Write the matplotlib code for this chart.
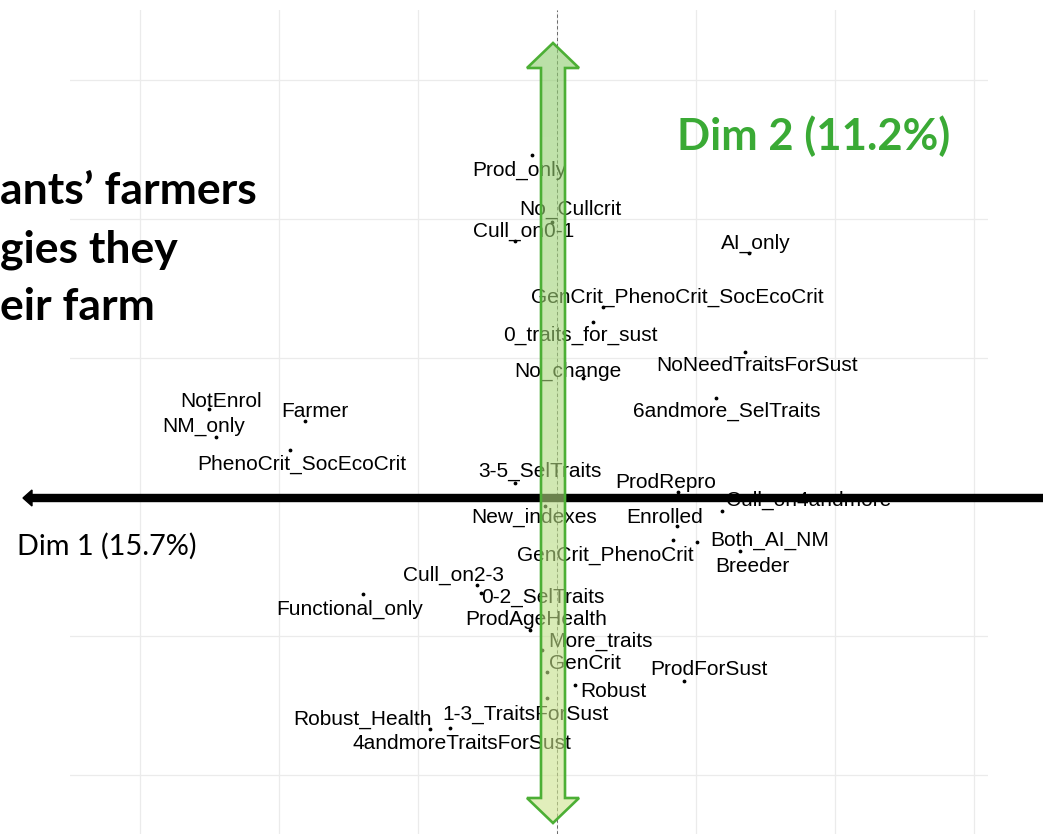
import numpy as np
import matplotlib
matplotlib.use("Agg")
import matplotlib.pyplot as plt
from matplotlib.patches import Polygon

# MCA variable categories: coordinates on Dim 1 / Dim 2
categories = [
    "Prod_only", "No_Cullcrit", "Cull_on0-1", "AI_only",
    "GenCrit_PhenoCrit_SocEcoCrit", "0_traits_for_sust", "No_change",
    "NoNeedTraitsForSust", "6andmore_SelTraits", "NotEnrol", "NM_only",
    "Farmer", "PhenoCrit_SocEcoCrit", "3-5_SelTraits", "ProdRepro",
    "Cull_on4andmore", "New_indexes", "Enrolled", "Both_AI_NM",
    "GenCrit_PhenoCrit", "Breeder", "Cull_on2-3", "0-2_SelTraits",
    "Functional_only", "ProdAgeHealth", "More_traits", "GenCrit",
    "ProdForSust", "Robust", "Robust_Health", "1-3_TraitsForSust",
    "4andmoreTraitsForSust",
]
dim1 = [-0.090, -0.018, -0.151, 0.691, 0.165, 0.129, 0.094, 0.676, 0.572,
        -1.252, -1.227, -0.906, -0.960, -0.151, 0.435, 0.594, -0.043, 0.432,
        0.504, 0.417, 0.658, -0.288, -0.273, -0.698, -0.097, -0.054, -0.036,
        0.457, 0.065, -0.457, -0.036, -0.385]
dim2 = [1.230, 0.989, 0.921, 0.878, 0.683, 0.629, 0.428, 0.522, 0.356,
        0.317, 0.216, 0.273, 0.169, 0.050, 0.018, -0.050, -0.032, -0.104,
        -0.162, -0.155, -0.194, -0.317, -0.345, -0.349, -0.478, -0.550,
        -0.629, -0.662, -0.676, -0.835, -0.723, -0.831]
# repelled label positions
label_x = [-0.137, 0.047, -0.119, 0.716, 0.432, 0.083, 0.040, 0.719, 0.612,
           -1.209, -1.270, -0.871, -0.917, -0.061, 0.392, 0.906, -0.083, 0.388,
           0.766, 0.173, 0.701, -0.374, -0.050, -0.745, -0.076, 0.155, 0.101,
           0.547, 0.201, -0.701, -0.112, -0.342]
label_y = [1.176, 1.036, 0.957, 0.914, 0.719, 0.583, 0.453, 0.475, 0.309,
           0.345, 0.255, 0.309, 0.119, 0.094, 0.054, -0.011, -0.072, -0.072,
           -0.155, -0.209, -0.248, -0.281, -0.360, -0.403, -0.439, -0.518,
           -0.597, -0.622, -0.698, -0.799, -0.781, -0.885]

dim1_label = "Dim 1 (15.7%)"
dim2_label = "Dim 2 (11.2%)"
title_lines = ["ants\u2019 farmers", "gies they", "eir farm"]

W, H = 1043, 834
fig = plt.figure(figsize=(W / 100, H / 100), dpi=100)

ax = fig.add_axes([70 / W, 0, 918 / W, 824 / H])
ticks = np.arange(-1.5, 1.51, 0.5)
ax.set_xticks(ticks)
ax.set_yticks(ticks)
ax.set_xlim(-1.752, 1.550)
ax.set_ylim(-1.212, 1.752)
ax.grid(True, color="#ebebeb", lw=0.9)
ax.tick_params(length=0, labelbottom=False, labelleft=False)
for s in ax.spines.values():
    s.set_visible(False)
ax.axvline(0, color="#555555", lw=0.6, ls=(0, (4, 3)))
ax.axhline(0, color="#555555", lw=0.6, ls=(0, (4, 3)))

ax.scatter(dim1, dim2, s=3, color="black", zorder=3)
for name, lx, ly in zip(categories, label_x, label_y):
    ax.text(lx, ly, name, fontsize=15, family="Liberation Sans",
            ha="center", va="center", zorder=4)

# overlay in pixel coordinates for the axis arrows and slide text
ov = fig.add_axes([0, 0, 1, 1], zorder=5)
ov.patch.set_alpha(0)
ov.axis("off")

black = Polygon([(23, 498), (32, 490), (32, 494.5), (W, 494.5), (W, 501.5),
                 (32, 501.5), (32, 506)], closed=True, color="black", zorder=1)
ov.add_patch(black)

verts = [(553, 43), (579, 68), (565, 68), (565, 798), (579, 798), (553, 823),
         (527, 798), (541, 798), (541, 68), (527, 68)]
outline = Polygon(verts, closed=True, facecolor="none", edgecolor="#4caf35",
                  lw=1.9, zorder=3)
ov.add_patch(outline)
top = np.array([141, 204, 110]) / 255
bot = np.array([208, 229, 143]) / 255
t = np.linspace(0, 1, 256)[:, None, None]
img = top * (1 - t) + bot * t
img = np.repeat(img, 4, axis=1)
im = ov.imshow(img, extent=(527, 579, 823, 43), origin="upper", aspect="auto",
               alpha=0.6, zorder=2)
im.set_clip_path(outline)

ov.text(677, 150, dim2_label, fontsize=31.4, family="Lato", weight="bold",
        color="#3aaa35", ha="left", va="baseline")
ov.text(17, 555, dim1_label, fontsize=20.8, family="Lato",
        color="black", ha="left", va="baseline")
for line, yb in zip(title_lines, [204, 262, 320]):
    ov.text(0, yb, line, fontsize=32, family="Lato", weight="bold",
            color="black", ha="left", va="baseline")

ov.set_xlim(0, W)
ov.set_ylim(H, 0)

fig.savefig("out.png", dpi=100, facecolor="white")
